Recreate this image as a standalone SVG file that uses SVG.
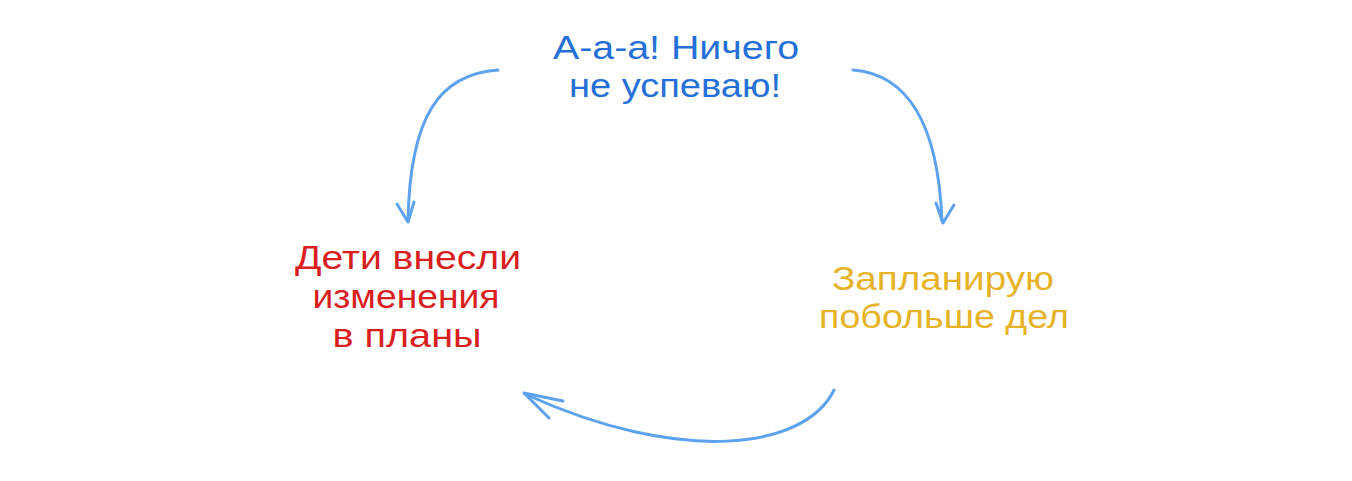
<svg xmlns="http://www.w3.org/2000/svg" width="1352" height="481" viewBox="0 0 1352 481">
<style>
.t{font-family:"Liberation Sans",Arial,sans-serif;font-size:33px;text-anchor:middle}
.blue{fill:#2470D6}
.red{fill:#D9201E}
.yellow{fill:#E6B327}
.c{fill:none;stroke:#5CA2EF;stroke-width:3;stroke-linecap:round;stroke-linejoin:round}
</style>
<rect width="1352" height="481" fill="#ffffff"/>
<g id="node-top">
<text class="t blue" x="676" y="59" textLength="246" lengthAdjust="spacingAndGlyphs">А-а-а! Ничего</text>
<text class="t blue" x="675" y="97" textLength="212" lengthAdjust="spacingAndGlyphs">не успеваю!</text>
</g>
<g id="node-left">
<text class="t red" x="408" y="269" textLength="226" lengthAdjust="spacingAndGlyphs">Дети внесли</text>
<text class="t red" x="406" y="308" textLength="187" lengthAdjust="spacingAndGlyphs">изменения</text>
<text class="t red" x="407" y="347" textLength="149" lengthAdjust="spacingAndGlyphs">в планы</text>
</g>
<g id="node-right">
<text class="t yellow" x="943" y="290" textLength="222" lengthAdjust="spacingAndGlyphs">Запланирую</text>
<text class="t yellow" x="944" y="328" textLength="250" lengthAdjust="spacingAndGlyphs">побольше дел</text>
</g>
<g id="connectors">
<path class="c" d="M498,70 C440,74 410,115 408,221"/>
<path class="c" d="M397,204 L408,222 L414,202"/>
<path class="c" d="M853,70 C905,74 938,120 942,221"/>
<path class="c" d="M936,203 L943,223 L954,205"/>
<path class="c" d="M834,390 C805,450 680,465 525,394"/>
<path class="c" d="M563,401 L524,393 L549,418"/>
</g>
</svg>
